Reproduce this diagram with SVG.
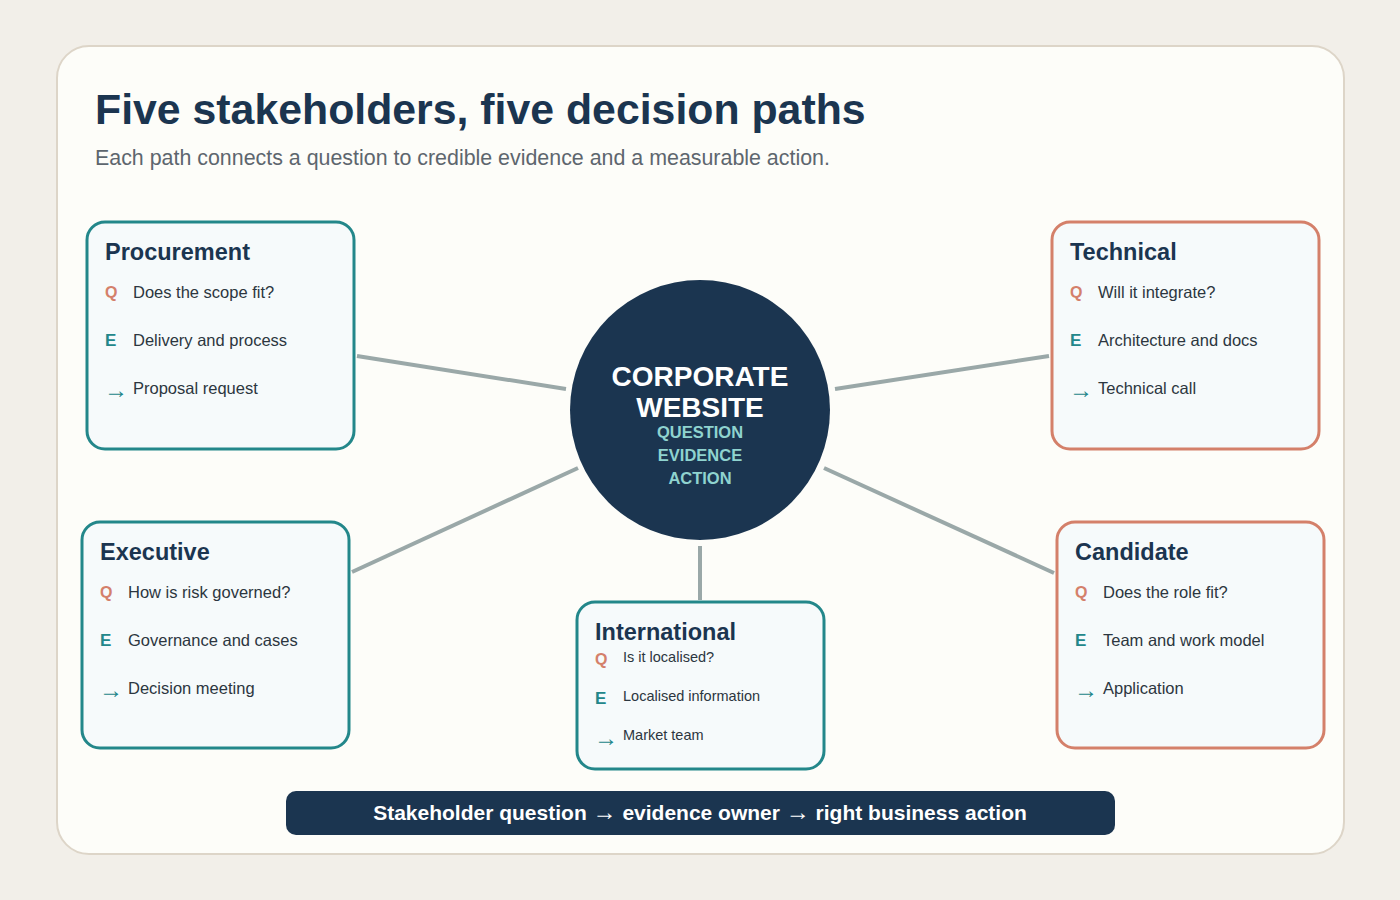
<svg xmlns="http://www.w3.org/2000/svg" width="1400" height="900" viewBox="0 0 1400 900">
<style>
text{font-family:"Liberation Sans",Arial,sans-serif}
.t{fill:#1b3550;font-weight:bold;font-size:23.5px}
.i{fill:#2c3640;font-size:16.5px}
.is{fill:#2c3640;font-size:14.5px}
.q{fill:#d4806a;font-weight:bold;font-size:16px}
.e{fill:#23878a;font-weight:bold;font-size:17px}
.a{fill:#23878a;font-size:24px}
.bt{fill:#f6fafb;stroke:#23878a;stroke-width:3}
.bo{fill:#f6fafb;stroke:#d4806a;stroke-width:3}
</style>
<rect width="1400" height="900" fill="#f2efe9"/>
<rect x="57" y="46" width="1287" height="808" rx="32" fill="#fdfdf9" stroke="#ddd5c8" stroke-width="2"/>
<text x="95" y="124" font-size="42.8" font-weight="bold" fill="#1b3550">Five stakeholders, five decision paths</text>
<text x="95" y="165" font-size="21.4" fill="#5d666e">Each path connects a question to credible evidence and a measurable action.</text>
<g id="connectors" stroke="#9aa8a8" stroke-width="4">
<line x1="357" y1="356" x2="566" y2="389"/>
<line x1="835" y1="389" x2="1049" y2="356"/>
<line x1="578" y1="468" x2="352" y2="572"/>
<line x1="824" y1="468" x2="1054" y2="573"/>
<line x1="700" y1="546" x2="700" y2="600"/>
</g>
<g id="hub">
<circle cx="700" cy="410" r="130" fill="#1b3550"/>
<text x="700" y="386" text-anchor="middle" fill="#fff" font-size="28" font-weight="bold">CORPORATE</text>
<text x="700" y="417" text-anchor="middle" fill="#fff" font-size="28" font-weight="bold">WEBSITE</text>
<text x="700" y="438" text-anchor="middle" fill="#8fd3cf" font-size="16.5" font-weight="bold">QUESTION</text>
<text x="700" y="461" text-anchor="middle" fill="#8fd3cf" font-size="16.5" font-weight="bold">EVIDENCE</text>
<text x="700" y="484" text-anchor="middle" fill="#8fd3cf" font-size="16.5" font-weight="bold">ACTION</text>
</g>
<g id="procurement">
<rect class="bt" x="87" y="222" width="267" height="227" rx="18"/>
<text class="t" x="105" y="260">Procurement</text>
<text class="q" x="105" y="298">Q</text><text class="i" x="133" y="298">Does the scope fit?</text>
<text class="e" x="105" y="346">E</text><text class="i" x="133" y="346">Delivery and process</text>
<text class="a" x="104" y="398">→</text><text class="i" x="133" y="394">Proposal request</text>
</g>
<g id="technical">
<rect class="bo" x="1052" y="222" width="267" height="227" rx="18"/>
<text class="t" x="1070" y="260">Technical</text>
<text class="q" x="1070" y="298">Q</text><text class="i" x="1098" y="298">Will it integrate?</text>
<text class="e" x="1070" y="346">E</text><text class="i" x="1098" y="346">Architecture and docs</text>
<text class="a" x="1069" y="398">→</text><text class="i" x="1098" y="394">Technical call</text>
</g>
<g id="executive">
<rect class="bt" x="82" y="522" width="267" height="226" rx="18"/>
<text class="t" x="100" y="560">Executive</text>
<text class="q" x="100" y="598">Q</text><text class="i" x="128" y="598">How is risk governed?</text>
<text class="e" x="100" y="646">E</text><text class="i" x="128" y="646">Governance and cases</text>
<text class="a" x="99" y="698">→</text><text class="i" x="128" y="694">Decision meeting</text>
</g>
<g id="candidate">
<rect class="bo" x="1057" y="522" width="267" height="226" rx="18"/>
<text class="t" x="1075" y="560">Candidate</text>
<text class="q" x="1075" y="598">Q</text><text class="i" x="1103" y="598">Does the role fit?</text>
<text class="e" x="1075" y="646">E</text><text class="i" x="1103" y="646">Team and work model</text>
<text class="a" x="1074" y="698">→</text><text class="i" x="1103" y="694">Application</text>
</g>
<g id="international">
<rect class="bt" x="577" y="602" width="247" height="167" rx="18"/>
<text class="t" x="595" y="640">International</text>
<text class="q" x="595" y="665">Q</text><text class="is" x="623" y="662">Is it localised?</text>
<text class="e" x="595" y="704">E</text><text class="is" x="623" y="701">Localised information</text>
<text class="a" x="594" y="746">→</text><text class="is" x="623" y="740">Market team</text>
</g>
<g id="footer">
<rect x="286" y="791" width="829" height="44" rx="10" fill="#1b3550"/>
<text x="700" y="820" text-anchor="middle" fill="#fff" font-size="21" font-weight="bold">Stakeholder question <tspan font-size="24" font-weight="normal">→</tspan> evidence owner <tspan font-size="24" font-weight="normal">→</tspan> right business action</text>
</g>
</svg>
